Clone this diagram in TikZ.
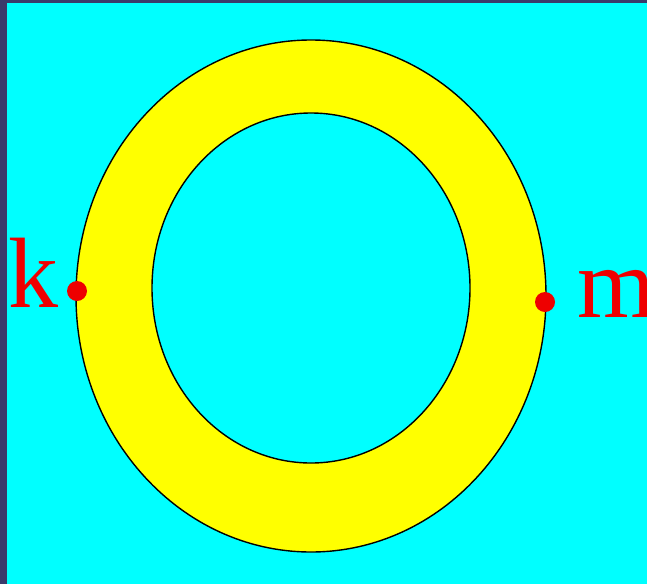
\documentclass[tikz,border=0pt]{standalone}
\usepackage{fontspec}
\setmainfont{Liberation Serif}
\definecolor{frame}{HTML}{3A3B6B}
\definecolor{bgcyan}{HTML}{00FFFF}
\definecolor{ringyellow}{HTML}{FFFF00}
\definecolor{lblred}{HTML}{EE0000}
\begin{document}
\begin{tikzpicture}[x=1pt,y=-1pt,
  dotstyle/.style={circle,fill=lblred,inner sep=0pt,minimum size=20pt},
  lbl/.style={text=lblred,font=\fontsize{100}{100}\selectfont,inner sep=0pt}]
\useasboundingbox (0,0) rectangle (647,584);
\fill[frame] (0,0) rectangle (647,584);
\fill[bgcyan] (7,3) rectangle (647,584);
\fill[ringyellow,even odd rule] (311,296) ellipse [x radius=235,y radius=256]
  (311,288) ellipse [x radius=159,y radius=175];
\draw[black,line width=1.4pt] (311,296) ellipse [x radius=235,y radius=256];
\draw[black,line width=1.4pt] (311,288) ellipse [x radius=159,y radius=175];
\node[dotstyle] (kdot) at (77,291) {};
\node[dotstyle] (mdot) at (545,302) {};
\node[lbl,anchor=base west] (klbl) at (8,307) {k};
\node[lbl,anchor=base west] (mlbl) at (577,317) {m};
\end{tikzpicture}
\end{document}
